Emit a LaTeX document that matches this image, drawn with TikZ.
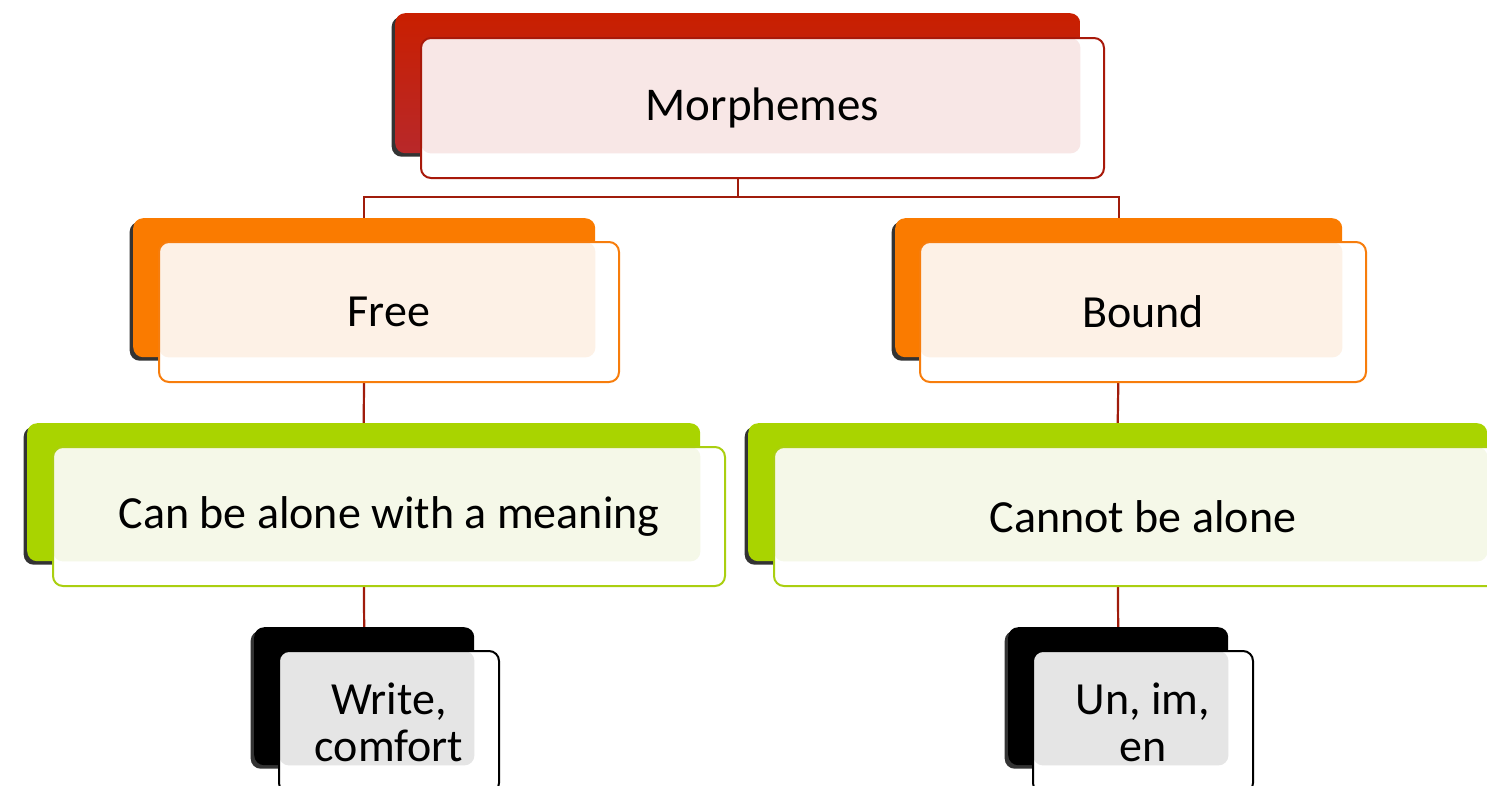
\documentclass[tikz,border=0pt]{standalone}
\usepackage{fontspec}
\setmainfont{Carlito}
\usetikzlibrary{shadows,backgrounds}
\definecolor{redB}{HTML}{C91F00}
\definecolor{redB2}{HTML}{B8282A}
\definecolor{redD}{HTML}{A8190A}
\definecolor{redT}{HTML}{F8E7E6}
\definecolor{oraB}{HTML}{FA7B00}
\definecolor{oraD}{HTML}{F77D0C}
\definecolor{oraT}{HTML}{FDF1E6}
\definecolor{grnB}{HTML}{A9D400}
\definecolor{grnD}{HTML}{AACF10}
\definecolor{grnT}{HTML}{F5F8E8}
\definecolor{gryT}{HTML}{E5E5E5}
\definecolor{connred}{HTML}{A01C0C}
\tikzset{
  backbox/.style={rectangle, rounded corners=10pt, anchor=north west, inner sep=0pt,
    drop shadow={shadow xshift=-3.5pt, shadow yshift=-3.5pt, opacity=0.8, fill=black}},
  frontbox/.style={rectangle, rounded corners=10pt, anchor=north west, inner sep=0pt,
    fill=white, line width=2pt, align=center, font=\fontsize{46}{47}\selectfont},
  tint/.style 2 args={path picture={\fill[#1, rounded corners=10pt]
    (path picture bounding box.north west) rectangle (#2.south east);}},
  conn/.style={draw=connred, line width=2.2pt}
}
\begin{document}
\begin{tikzpicture}[x=1pt, y=-1pt]
\useasboundingbox (0,0) rectangle (1487,785);
\clip (0,0) rectangle (1487,785);
% top
\node[backbox, top color=redB, bottom color=redB2, minimum width=685pt, minimum height=140pt] (mB) at (395,13) {};
\node[frontbox, draw=redD, minimum width=683pt, minimum height=140pt, tint={redT}{mB}] (m) at (420,37) {\raisebox{-3pt}{\fontsize{47}{48}\selectfont Morphemes}};
% level 2
\node[backbox, fill=oraB, minimum width=462pt, minimum height=139pt] (freeB) at (133,218) {};
\node[frontbox, draw=oraD, minimum width=460pt, minimum height=140pt, tint={oraT}{freeB}] (free) at (158,241) {\raisebox{-2pt}{Free}};
\node[backbox, fill=oraB, minimum width=447pt, minimum height=139pt] (boundB) at (895,218) {};
\node[frontbox, draw=oraD, minimum width=446pt, minimum height=140pt, tint={oraT}{boundB}] (bound) at (919,241) {\raisebox{-2pt}{Bound}};
% level 3
\node[backbox, fill=grnB, minimum width=673pt, minimum height=138pt] (canB) at (27,423) {};
\node[frontbox, draw=grnD, minimum width=672pt, minimum height=139pt, tint={grnT}{canB}] (can) at (52,446) {\raisebox{-3pt}{Can be alone with a meaning}};
\node[backbox, fill=grnB, minimum width=739pt, minimum height=138pt] (cannotB) at (748,423) {};
\node[frontbox, draw=grnD, minimum width=738pt, minimum height=139pt, tint={grnT}{cannotB}] (cannot) at (773,446) {Cannot be alone};
% level 4
\node[backbox, fill=black, minimum width=220pt, minimum height=138pt] (wrB) at (254,627) {};
\node[frontbox, draw=black, minimum width=220pt, minimum height=142pt, tint={gryT}{wrB}] (wr) at (278,650) {Write,\\comfort};
\node[backbox, fill=black, minimum width=220pt, minimum height=138pt] (unB) at (1008,627) {};
\node[frontbox, draw=black, minimum width=220pt, minimum height=142pt, tint={gryT}{unB}] (un) at (1032,650) {Un, im,\\en};
% connectors
\coordinate (bus) at (0,197);
\begin{scope}[on background layer]
\draw[conn] (mB.south) -- (mB.south |- bus) -| (freeB.north);
\draw[conn] (mB.south |- bus) -| (boundB.north);
\draw[conn] (freeB.south) -- (canB.north);
\draw[conn] (boundB.south) -- (cannotB.north);
\draw[conn] (canB.south) -- (wrB.north);
\draw[conn] (cannotB.south) -- (unB.north);
\end{scope}
\end{tikzpicture}
\end{document}
